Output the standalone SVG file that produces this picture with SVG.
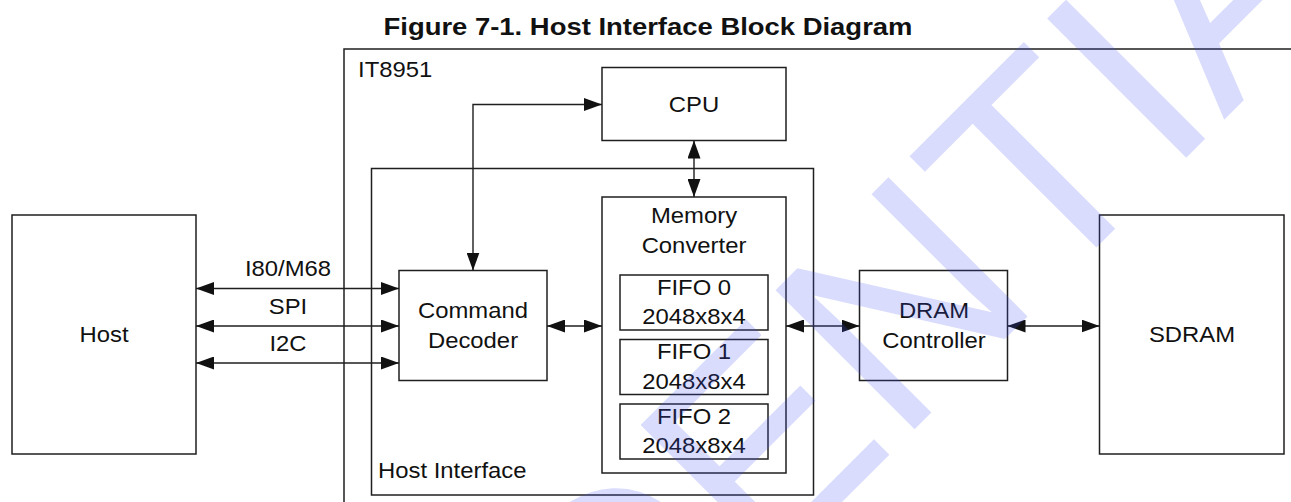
<svg xmlns="http://www.w3.org/2000/svg" width="1291" height="502" viewBox="0 0 1291 502">
<defs>
<style>
.box{fill:none;stroke:#1f1f1f;stroke-width:1.5}
.ln{fill:none;stroke:#1f1f1f;stroke-width:1.4}
.t{font-family:"Liberation Sans",Arial,sans-serif;font-size:21.3px;fill:#111}
.c{text-anchor:middle}
.title{font-family:"Liberation Sans",Arial,sans-serif;font-size:24.5px;font-weight:bold;fill:#111;text-anchor:middle}
.wm{font-family:"Liberation Sans",Arial,sans-serif;font-size:286px;fill:rgb(65,80,240);fill-opacity:0.2}
</style>
<marker id="ah" viewBox="0 0 18 13" refX="18" refY="6.5" markerWidth="18" markerHeight="13" markerUnits="userSpaceOnUse" orient="auto-start-reverse">
<path d="M0,0 L18,6.5 L0,13 z" fill="#111"/>
</marker>
</defs>
<rect width="1291" height="502" fill="#fff"/>
<text class="title" transform="translate(648 35) scale(1.12 1)">Figure 7-1. Host Interface Block Diagram</text>

<g id="it8951">
<path class="box" d="M1295,49 H344 V505"/>
<text class="t" transform="translate(358 77) scale(1.12 1)">IT8951</text>
</g>
<g id="host">
<rect class="box" x="12" y="215" width="184" height="239"/>
<text class="t c" transform="translate(104 342) scale(1.12 1)">Host</text>
</g>
<g id="cpu">
<rect class="box" x="602" y="67.5" width="184" height="73"/>
<text class="t c" transform="translate(694 111.5) scale(1.12 1)">CPU</text>
</g>
<g id="host-interface">
<rect class="box" x="371.5" y="168.5" width="442" height="326.5"/>
<text class="t" transform="translate(378 477.5) scale(1.12 1)">Host Interface</text>
</g>
<g id="command-decoder">
<rect class="box" x="399" y="270.5" width="148" height="110"/>
<text class="t c" transform="translate(473 317.5) scale(1.12 1)">Command</text>
<text class="t c" transform="translate(473 347.5) scale(1.12 1)">Decoder</text>
</g>
<g id="memory-converter">
<rect class="box" x="602" y="197" width="184" height="276"/>
<text class="t c" transform="translate(694 223) scale(1.12 1)">Memory</text>
<text class="t c" transform="translate(694 253) scale(1.12 1)">Converter</text>
</g>
<g id="fifo0">
<rect class="box" x="620" y="275" width="148" height="55"/>
<text class="t c" transform="translate(694 294.5) scale(1.12 1)">FIFO 0</text>
<text class="t c" transform="translate(694 324) scale(1.12 1)">2048x8x4</text>
</g>
<g id="fifo1">
<rect class="box" x="620" y="339.5" width="148" height="55"/>
<text class="t c" transform="translate(694 359) scale(1.12 1)">FIFO 1</text>
<text class="t c" transform="translate(694 388.5) scale(1.12 1)">2048x8x4</text>
</g>
<g id="fifo2">
<rect class="box" x="620" y="404" width="148" height="55"/>
<text class="t c" transform="translate(694 423.5) scale(1.12 1)">FIFO 2</text>
<text class="t c" transform="translate(694 453) scale(1.12 1)">2048x8x4</text>
</g>
<g id="dram-controller">
<rect class="box" x="859.5" y="270.5" width="148" height="110"/>
<text class="t c" transform="translate(934 317.5) scale(1.12 1)">DRAM</text>
<text class="t c" transform="translate(934 347.5) scale(1.12 1)">Controller</text>
</g>
<g id="sdram">
<rect class="box" x="1099.5" y="215" width="184.5" height="239"/>
<text class="t c" transform="translate(1192 342) scale(1.12 1)">SDRAM</text>
</g>

<g id="connectors">
<path class="ln" d="M196,288.5 H399" marker-start="url(#ah)" marker-end="url(#ah)"/>
<path class="ln" d="M196,326 H399" marker-start="url(#ah)" marker-end="url(#ah)"/>
<path class="ln" d="M196,363 H399" marker-start="url(#ah)" marker-end="url(#ah)"/>
<text class="t c" transform="translate(288 276) scale(1.12 1)">I80/M68</text>
<text class="t c" transform="translate(288 314) scale(1.12 1)">SPI</text>
<text class="t c" transform="translate(288 351) scale(1.12 1)">I2C</text>
<path class="ln" d="M547,326 H602" marker-start="url(#ah)" marker-end="url(#ah)"/>
<path class="ln" d="M786,326 H859.5" marker-start="url(#ah)" marker-end="url(#ah)"/>
<path class="ln" d="M1007.5,326 H1099.5" marker-start="url(#ah)" marker-end="url(#ah)"/>
<path class="ln" d="M694,140.5 V197" marker-start="url(#ah)" marker-end="url(#ah)"/>
<path class="ln" d="M473,270.5 V104.5 H602" marker-start="url(#ah)" marker-end="url(#ah)"/>
</g>

<g id="watermark">
<text class="wm" transform="translate(-12 1356) rotate(-45)">CONFIDENTIAL</text>
</g>
</svg>
